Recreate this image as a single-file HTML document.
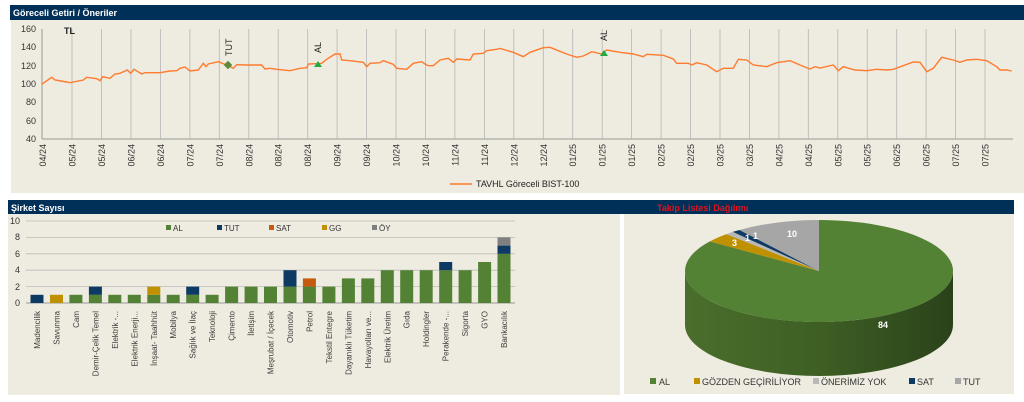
<!DOCTYPE html>
<html><head><meta charset="utf-8"><style>
html,body{margin:0;padding:0;background:#fff;}
svg{display:block;font-family:"Liberation Sans",sans-serif;}
</style></head><body>
<svg width="1024" height="402" viewBox="0 0 1024 402" xmlns="http://www.w3.org/2000/svg">
<defs>
<linearGradient id="side" x1="0" x2="1" y1="0" y2="0">
<stop offset="0" stop-color="#4a6e2c"/><stop offset="0.5" stop-color="#3e5f24"/><stop offset="1" stop-color="#2a421a"/>
</linearGradient>
</defs>
<!-- TOP PANEL -->
<rect x="10" y="5" width="1014" height="15" fill="#003057"/>
<text x="13" y="16" font-size="9" font-weight="bold" fill="#fff">Göreceli Getiri / Öneriler</text>
<rect x="11" y="20" width="1013" height="173" fill="#eeebe0"/>
<g font-size="9" fill="#333" text-anchor="end">
<text x="36" y="32">160</text><text x="36" y="50">140</text><text x="36" y="69">120</text>
<text x="36" y="87">100</text><text x="36" y="105">80</text><text x="36" y="124">60</text><text x="36" y="142">40</text>
</g>
<line x1="42" y1="139" x2="1013" y2="139" stroke="#999" stroke-width="1"/>
<line x1="42" y1="29" x2="42" y2="139" stroke="#999" stroke-width="1"/>
<g id="grid" stroke="#aaa" stroke-width="0.7">
</g>
<script>
</script>
<g stroke="#b5b5b5" stroke-width="0.8">
<line x1="72" y1="29" x2="72" y2="139"/><line x1="101.5" y1="29" x2="101.5" y2="139"/><line x1="131" y1="29" x2="131" y2="139"/><line x1="160.4" y1="29" x2="160.4" y2="139"/><line x1="189.9" y1="29" x2="189.9" y2="139"/><line x1="219.3" y1="29" x2="219.3" y2="139"/><line x1="248.8" y1="29" x2="248.8" y2="139"/><line x1="278.2" y1="29" x2="278.2" y2="139"/><line x1="307.7" y1="29" x2="307.7" y2="139"/><line x1="337.1" y1="29" x2="337.1" y2="139"/><line x1="366.6" y1="29" x2="366.6" y2="139"/><line x1="396" y1="29" x2="396" y2="139"/><line x1="425.5" y1="29" x2="425.5" y2="139"/><line x1="454.9" y1="29" x2="454.9" y2="139"/><line x1="484.4" y1="29" x2="484.4" y2="139"/><line x1="513.8" y1="29" x2="513.8" y2="139"/><line x1="543.3" y1="29" x2="543.3" y2="139"/><line x1="572.7" y1="29" x2="572.7" y2="139"/><line x1="602.2" y1="29" x2="602.2" y2="139"/><line x1="631.6" y1="29" x2="631.6" y2="139"/><line x1="661.1" y1="29" x2="661.1" y2="139"/><line x1="690.5" y1="29" x2="690.5" y2="139"/><line x1="720" y1="29" x2="720" y2="139"/><line x1="749.4" y1="29" x2="749.4" y2="139"/><line x1="778.9" y1="29" x2="778.9" y2="139"/><line x1="808.3" y1="29" x2="808.3" y2="139"/><line x1="837.8" y1="29" x2="837.8" y2="139"/><line x1="867.2" y1="29" x2="867.2" y2="139"/><line x1="896.7" y1="29" x2="896.7" y2="139"/><line x1="926.1" y1="29" x2="926.1" y2="139"/><line x1="955.6" y1="29" x2="955.6" y2="139"/><line x1="985" y1="29" x2="985" y2="139"/>
</g>
<g font-size="9" fill="#333" text-anchor="end">
<text transform="translate(46,144) rotate(-90)">04/24</text><text transform="translate(75.5,144) rotate(-90)">05/24</text><text transform="translate(105,144) rotate(-90)">05/24</text><text transform="translate(134.5,144) rotate(-90)">06/24</text><text transform="translate(164,144) rotate(-90)">06/24</text><text transform="translate(193.4,144) rotate(-90)">07/24</text><text transform="translate(222.8,144) rotate(-90)">07/24</text><text transform="translate(252.3,144) rotate(-90)">08/24</text><text transform="translate(281.7,144) rotate(-90)">08/24</text><text transform="translate(311.2,144) rotate(-90)">08/24</text><text transform="translate(340.6,144) rotate(-90)">09/24</text><text transform="translate(370.1,144) rotate(-90)">09/24</text><text transform="translate(399.5,144) rotate(-90)">10/24</text><text transform="translate(429,144) rotate(-90)">10/24</text><text transform="translate(458.4,144) rotate(-90)">11/24</text><text transform="translate(487.9,144) rotate(-90)">11/24</text><text transform="translate(517.3,144) rotate(-90)">12/24</text><text transform="translate(546.8,144) rotate(-90)">12/24</text><text transform="translate(576.2,144) rotate(-90)">01/25</text><text transform="translate(605.7,144) rotate(-90)">01/25</text><text transform="translate(635.1,144) rotate(-90)">01/25</text><text transform="translate(664.6,144) rotate(-90)">02/25</text><text transform="translate(694,144) rotate(-90)">02/25</text><text transform="translate(723.5,144) rotate(-90)">03/25</text><text transform="translate(752.9,144) rotate(-90)">03/25</text><text transform="translate(782.4,144) rotate(-90)">04/25</text><text transform="translate(811.8,144) rotate(-90)">04/25</text><text transform="translate(841.3,144) rotate(-90)">05/25</text><text transform="translate(870.7,144) rotate(-90)">05/25</text><text transform="translate(900.2,144) rotate(-90)">06/25</text><text transform="translate(929.6,144) rotate(-90)">06/25</text><text transform="translate(959.1,144) rotate(-90)">07/25</text><text transform="translate(988.5,144) rotate(-90)">07/25</text>
</g>
<polyline fill="none" stroke="#ff7b2e" stroke-width="1.4" points="41.7,84.3 51.7,77.3 55,80 66.7,82 70,82.7 83.3,80 86.7,77.3 96.7,78.7 100,80.7 102.7,76.7 110,78.3 115,74 120,73.3 127.3,70 130.7,73.3 134,69.3 141.7,74 145,72.7 160,72.7 170,71 176.7,70.7 180,68.3 185,67 190,71 198.3,70 203.3,63.3 206,66.7 208.3,64 218.3,61.7 226.7,65 233.3,68.3 236.7,64.7 246.7,65 261.7,65 265,69 270,68.3 276.7,69.3 290,70.7 300,68.3 306.7,67.7 308.3,64 321.7,63.3 326.7,59.3 335,54 340,54 341.7,60 350,60.7 363.3,62.3 366.7,66.7 370,63.3 380,62.7 383.3,60.7 393.3,64.3 396.7,68.3 406.7,69.3 413.3,63.3 421.7,61.7 425,64 428.3,65.7 433.3,65.7 440,60 448.3,58.3 453.3,62.3 456.7,59 470,60 473.3,54 483.3,53.3 486.7,50.7 496.7,49.3 500,48.5 513.3,52.3 523.3,56.7 530,52.3 543.3,47.7 550,47.3 558.3,50.7 566.7,54 576.7,57.3 583.3,56 591.7,51.7 601.7,54 606.7,50 620,52.3 633.3,54 643.3,56.7 646.7,54.3 663.3,55.3 673.3,59 676.7,63.3 688.3,63.3 691.7,65 696.7,62.7 706.7,65 716.7,71.7 723.3,68.3 733.3,68.3 738.3,59.3 746.7,60 753.3,65 766.7,66.7 776.7,62.7 790,60.7 800,65 810,69 815,66.7 820,68 833.3,65 838.3,70.7 843.3,66.7 855,70 866.7,70.7 876.7,69.3 886.7,70 893.3,69.3 913.3,62 920,62.3 926.7,71.7 933.3,68.3 941.7,57.3 953.3,60 960,62.3 966.7,60 976.7,59.3 986.7,60.7 996.7,66.7 1000,70 1006.7,70 1011.7,71"/>
<text x="64" y="34" font-size="9" font-weight="bold" fill="#222">TL</text>
<rect x="225" y="62" width="6" height="6" fill="#5a8a3a" transform="rotate(45 228 65)"/>
<text transform="translate(232,56) rotate(-90)" font-size="9" fill="#222">TUT</text>
<polygon points="314,67 322,67 318,61" fill="#22aa44"/>
<text transform="translate(321,53) rotate(-90)" font-size="9" fill="#222">AL</text>
<polygon points="600,56 608,56 604,50" fill="#22aa44"/>
<text transform="translate(607,41) rotate(-90)" font-size="9" fill="#222">AL</text>
<line x1="450" y1="184" x2="472" y2="184" stroke="#ff7b2e" stroke-width="1.6"/>
<text x="476" y="187" font-size="9" fill="#222">TAVHL Göreceli BIST-100</text>

<!-- BOTTOM LEFT -->
<rect x="8" y="200" width="645" height="14" fill="#003057"/>
<text x="11" y="211" font-size="9" font-weight="bold" fill="#fff">Şirket Sayısı</text>
<rect x="8" y="214" width="612" height="181" fill="#eeebe0"/>
<g stroke="#bbb" stroke-width="0.8">
<line x1="26" y1="221" x2="515" y2="221"/><line x1="26" y1="237.4" x2="515" y2="237.4"/><line x1="26" y1="253.8" x2="515" y2="253.8"/><line x1="26" y1="270.2" x2="515" y2="270.2"/><line x1="26" y1="286.6" x2="515" y2="286.6"/>
</g>
<line x1="26" y1="303" x2="515" y2="303" stroke="#999"/>
<g font-size="9" fill="#333" text-anchor="end">
<text x="20" y="224">10</text><text x="20" y="240">8</text><text x="20" y="257">6</text><text x="20" y="273">4</text><text x="20" y="290">2</text><text x="20" y="306">0</text>
</g>
<g font-size="8" fill="#333">
<rect x="166" y="225" width="5" height="5" fill="#548235"/><text x="173" y="231">AL</text>
<rect x="217" y="225" width="5" height="5" fill="#0d3a63"/><text x="224" y="231">TUT</text>
<rect x="269" y="225" width="5" height="5" fill="#c55a11"/><text x="276" y="231">SAT</text>
<rect x="322" y="225" width="5" height="5" fill="#bf9000"/><text x="329" y="231">GG</text>
<rect x="372" y="225" width="5" height="5" fill="#7f7f7f"/><text x="379" y="231">ÖY</text>
</g>
<g>
<rect x="30.5" y="294.8" width="13" height="8.2" fill="#0d3a63"/>
<rect x="50" y="294.8" width="13" height="8.2" fill="#bf9000"/>
<rect x="69.4" y="294.8" width="13" height="8.2" fill="#548235"/>
<rect x="88.9" y="294.8" width="13" height="8.2" fill="#548235"/><rect x="88.9" y="286.6" width="13" height="8.2" fill="#0d3a63"/>
<rect x="108.3" y="294.8" width="13" height="8.2" fill="#548235"/>
<rect x="127.8" y="294.8" width="13" height="8.2" fill="#548235"/>
<rect x="147.3" y="294.8" width="13" height="8.2" fill="#548235"/><rect x="147.3" y="286.6" width="13" height="8.2" fill="#bf9000"/>
<rect x="166.7" y="294.8" width="13" height="8.2" fill="#548235"/>
<rect x="186.2" y="294.8" width="13" height="8.2" fill="#548235"/><rect x="186.2" y="286.6" width="13" height="8.2" fill="#0d3a63"/>
<rect x="205.6" y="294.8" width="13" height="8.2" fill="#548235"/>
<rect x="225.1" y="286.6" width="13" height="16.4" fill="#548235"/>
<rect x="244.6" y="286.6" width="13" height="16.4" fill="#548235"/>
<rect x="264" y="286.6" width="13" height="16.4" fill="#548235"/>
<rect x="283.5" y="286.6" width="13" height="16.4" fill="#548235"/><rect x="283.5" y="270.2" width="13" height="16.4" fill="#0d3a63"/>
<rect x="302.9" y="286.6" width="13" height="16.4" fill="#548235"/><rect x="302.9" y="278.4" width="13" height="8.2" fill="#c55a11"/>
<rect x="322.4" y="286.6" width="13" height="16.4" fill="#548235"/>
<rect x="341.9" y="278.4" width="13" height="24.6" fill="#548235"/>
<rect x="361.3" y="278.4" width="13" height="24.6" fill="#548235"/>
<rect x="380.8" y="270.2" width="13" height="32.8" fill="#548235"/>
<rect x="400.2" y="270.2" width="13" height="32.8" fill="#548235"/>
<rect x="419.7" y="270.2" width="13" height="32.8" fill="#548235"/>
<rect x="439.2" y="270.2" width="13" height="32.8" fill="#548235"/><rect x="439.2" y="262" width="13" height="8.2" fill="#0d3a63"/>
<rect x="458.6" y="270.2" width="13" height="32.8" fill="#548235"/>
<rect x="478.1" y="262" width="13" height="41" fill="#548235"/>
<rect x="497.5" y="253.8" width="13" height="49.2" fill="#548235"/><rect x="497.5" y="245.6" width="13" height="8.2" fill="#0d3a63"/><rect x="497.5" y="237.4" width="13" height="8.2" fill="#7f7f7f"/>
</g>
<g font-size="8" fill="#404040" text-anchor="end">
<text transform="translate(40,311) rotate(-90)">Madencilik</text>
<text transform="translate(59.5,311) rotate(-90)">Savunma</text>
<text transform="translate(78.9,311) rotate(-90)">Cam</text>
<text transform="translate(98.4,311) rotate(-90)">Demir-Çelik Temel</text>
<text transform="translate(117.8,311) rotate(-90)">Elektrik -...</text>
<text transform="translate(137.3,311) rotate(-90)">Elektrik Enerji...</text>
<text transform="translate(156.8,311) rotate(-90)">İnşaat- Taahhüt</text>
<text transform="translate(176.2,311) rotate(-90)">Mobilya</text>
<text transform="translate(195.7,311) rotate(-90)">Sağlık ve İlaç</text>
<text transform="translate(215.1,311) rotate(-90)">Teknoloji</text>
<text transform="translate(234.6,311) rotate(-90)">Çimento</text>
<text transform="translate(254.1,311) rotate(-90)">İletişim</text>
<text transform="translate(273.5,311) rotate(-90)">Meşrubat / İçecek</text>
<text transform="translate(293,311) rotate(-90)">Otomotiv</text>
<text transform="translate(312.4,311) rotate(-90)">Petrol</text>
<text transform="translate(331.9,311) rotate(-90)">Tekstil Entegre</text>
<text transform="translate(351.4,311) rotate(-90)">Dayanıklı Tüketim</text>
<text transform="translate(370.8,311) rotate(-90)">Havayolları ve...</text>
<text transform="translate(390.3,311) rotate(-90)">Elektrik Üretim</text>
<text transform="translate(409.7,311) rotate(-90)">Gıda</text>
<text transform="translate(429.2,311) rotate(-90)">Holdingler</text>
<text transform="translate(448.7,311) rotate(-90)">Perakende -...</text>
<text transform="translate(468.1,311) rotate(-90)">Sigorta</text>
<text transform="translate(487.6,311) rotate(-90)">GYO</text>
<text transform="translate(507,311) rotate(-90)">Bankacılık</text>
</g>

<!-- BOTTOM RIGHT -->
<rect x="653" y="200" width="361" height="14" fill="#003057"/>
<text x="657" y="211" font-size="9" font-weight="bold" fill="#e8101a">Takip Listesi Dağılımı</text>
<rect x="624" y="214" width="390" height="180" fill="#eeebe0"/>
<path d="M953,271 A134,51 0 0 1 685,271 L685,325 A134,51 0 0 0 953,325 Z" fill="url(#side)"/>
<path d="M819,271 L819,220 A134,51 0 1 1 709.9,241.4 Z" fill="#548235"/>
<path d="M819,271 L709.9,241.4 A134,51 0 0 1 726.5,234.1 Z" fill="#bf9000"/>
<path d="M819,271 L726.5,234.1 A134,51 0 0 1 732.8,231.9 Z" fill="#b8b8b8"/>
<path d="M819,271 L732.8,231.9 A134,51 0 0 1 739.5,230 Z" fill="#0d3a63"/>
<path d="M819,271 L739.5,230 A134,51 0 0 1 819,220 Z" fill="#a6a6a6"/>
<g font-size="9" font-weight="bold" fill="#fff">
<text x="878" y="328">84</text>
<text x="787" y="237">10</text>
<text x="732" y="246">3</text>
<text x="745" y="241">1</text>
<text x="753" y="239">1</text>
</g>
<g font-size="9" fill="#333">
<rect x="650" y="378" width="6" height="6" fill="#548235"/><text x="659" y="385">AL</text>
<rect x="694" y="378" width="6" height="6" fill="#bf9000"/><text x="702" y="385">GÖZDEN GEÇİRİLİYOR</text>
<rect x="813" y="378" width="6" height="6" fill="#b8b8b8"/><text x="821" y="385">ÖNERİMİZ YOK</text>
<rect x="909" y="378" width="6" height="6" fill="#0d3a63"/><text x="917" y="385">SAT</text>
<rect x="955" y="378" width="6" height="6" fill="#a6a6a6"/><text x="963" y="385">TUT</text>
</g>
</svg>
</body></html>
